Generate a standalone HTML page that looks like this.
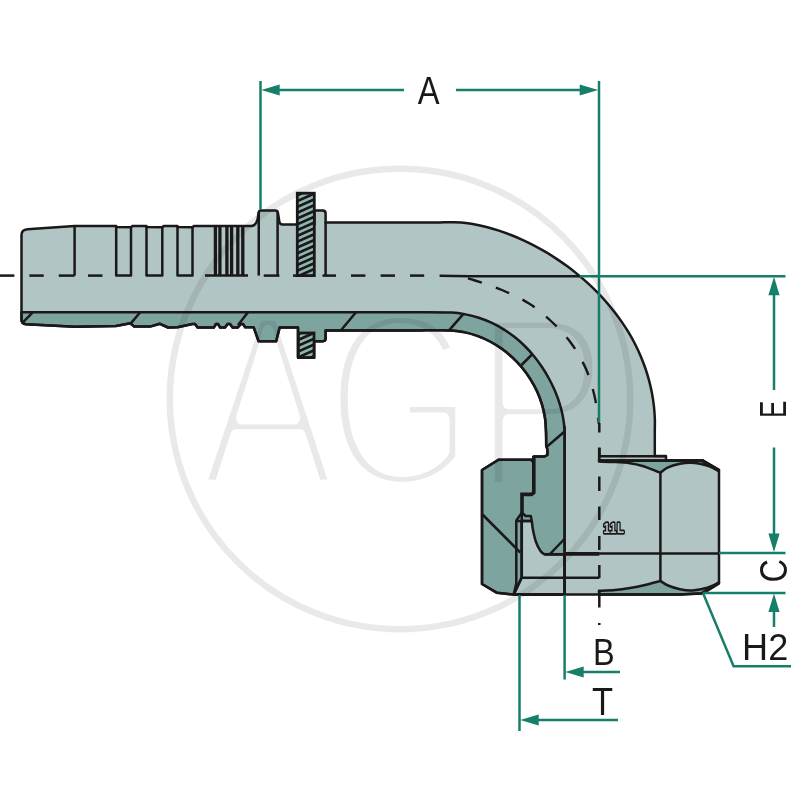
<!DOCTYPE html>
<html lang="en">
<head>
<meta charset="utf-8">
<title>A G P</title>
<style>
html,body{margin:0;padding:0;background:#ffffff;}
body{width:800px;height:800px;overflow:hidden;}
svg{display:block;}
</style>
</head>
<body>
<svg width="800" height="800" viewBox="0 0 800 800">
<rect width="800" height="800" fill="#ffffff"/>
<g style="isolation:isolate">
<path d="M 21.5 235 Q 21.5 229.8 27.5 229.3 L 74.5 226 L 116.2 226 L 116.2 227 L 131 227.3 L 132.2 226 L 146.5 226 L 146.5 227 L 162.3 227.3 L 163.5 226 L 177.5 226 L 177.5 227 L 192.5 227.3 L 193.7 226 L 251.5 226 Q 256 225.6 257.6 219 L 258.75 212.6 Q 258.9 210.6 261 210.6 L 275.4 210.6 Q 277.6 210.6 277.9 212.6 L 279.4 222 Q 279.8 224.4 282.5 224.4 L 297 224.4 L 314.4 224.4 L 314.4 210.6 L 322.6 210.6 Q 325.6 210.6 325.6 213.4 L 325.6 222.4 L 440 222.4 C 443.5 222.4 455.36 222.09 461 222.4 C 466.64 222.71 469.58 223.49 473.83 224.26 C 478.07 225.03 482.28 225.96 486.45 227.02 C 490.62 228.09 494.76 229.3 498.86 230.63 C 502.96 231.96 507.02 233.43 511.03 235 C 515.05 236.58 519.03 238.28 522.96 240.08 C 526.89 241.88 530.78 243.79 534.62 245.81 C 538.45 247.82 542.25 249.94 545.98 252.15 C 549.71 254.37 553.39 256.69 557.01 259.09 C 560.62 261.5 564.18 264 567.67 266.59 C 571.16 269.18 574.59 271.87 577.94 274.63 C 581.3 277.39 584.58 280.24 587.79 283.17 C 590.99 286.1 594.12 289.12 597.16 292.21 C 600.2 295.3 603.15 298.47 606.01 301.72 C 608.86 304.96 611.63 308.29 614.28 311.69 C 616.94 315.09 619.49 318.56 621.93 322.11 C 624.37 325.66 626.7 329.28 628.9 332.97 C 631.11 336.66 633.2 340.42 635.15 344.25 C 637.1 348.08 638.93 351.98 640.61 355.94 C 642.3 359.9 643.85 363.93 645.26 368 C 646.66 372.08 647.93 376.21 649.04 380.38 C 650.16 384.55 651.12 388.78 651.93 393.03 C 652.73 397.27 653.39 401.57 653.88 405.88 C 654.36 410.19 654.69 414.53 654.85 418.89 C 655 423.24 654.81 425.81 654.8 432 C 654.79 438.19 654.8 452 654.8 456 L 654.8 456 L 666 456 L 666 460.4 L 702.5 460.4 L 719 470 L 719 583 L 702.5 593.4 L 680 594.6 L 513.75 594.6 L 497 592.8 L 482 584 L 482 470 L 498.5 459.8 L 533.8 459.8 L 533.8 456.4 L 544.6 456.4 L 547.4 455 L 547.4 449.4 L 546.2 446 C 546.17 443.67 546.2 436.67 546 432 C 545.8 427.33 545.67 422.59 545 417.98 C 544.32 413.38 543.28 408.81 541.94 404.37 C 540.61 399.93 538.94 395.56 537.01 391.35 C 535.07 387.14 532.83 383.03 530.35 379.11 C 527.88 375.18 525.12 371.39 522.16 367.82 C 519.2 364.24 515.98 360.83 512.58 357.67 C 509.19 354.5 505.57 351.53 501.81 348.84 C 498.04 346.15 494.07 343.68 489.99 341.52 C 485.9 339.36 481.65 337.45 477.3 335.88 C 472.96 334.31 468.47 333.03 463.92 332.11 C 459.37 331.2 457.32 330.69 450 330.4 C 442.68 330.11 425 330.4 420 330.4 L 325.6 330.4 L 325.6 338.6 Q 325.6 341.2 323 341.2 L 314 341.2 L 314 357.5 L 298 357.5 L 298 327.6 L 279.6 327.6 L 276.2 341.3 L 258.6 341.3 L 253.6 327.2 L 245.2 327.2 L 243 324 L 241 324 L 237.6 327.6 L 232.6 327.6 L 230 324 L 227.6 324 L 225 327.6 L 220.2 327.6 L 218 324 L 216 324 L 213.8 327.6 L 197.6 327.6 L 195 324 L 192.5 324 L 177.5 327.3 L 168 327.5 L 160 323.8 L 150 326.6 L 134.2 326.6 L 130.4 323.2 L 116 326 L 75 326.8 L 26 324.2 Q 21.5 323.8 21.5 319.5 Z" fill="#b1c5c4"/>
<path d="M 21.5 312.3 L 420 312.3 C 425.33 312.35 444.39 312.25 452 312.6 C 459.61 312.95 461.17 313.53 465.63 314.39 C 470.1 315.26 474.5 316.42 478.79 317.81 C 483.08 319.2 487.3 320.86 491.37 322.74 C 495.45 324.63 499.43 326.77 503.26 329.11 C 507.08 331.46 510.79 334.04 514.33 336.82 C 517.86 339.59 521.26 342.6 524.48 345.76 C 527.69 348.93 530.75 352.31 533.64 355.81 C 536.52 359.31 539.25 362.99 541.8 366.77 C 544.34 370.55 546.73 374.48 548.92 378.48 C 551.1 382.48 553.11 386.6 554.9 390.78 C 556.68 394.96 558.28 399.23 559.62 403.54 C 560.96 407.85 562.09 412.24 562.92 416.65 C 563.75 421.06 564.32 426.11 564.6 430 C 564.88 433.89 564.6 438.33 564.6 440 L 564.6 594.6 L 513.75 594.6 L 497 592.8 L 482 584 L 482 470 L 498.5 459.8 L 533.8 459.8 L 533.8 456.4 L 544.6 456.4 L 547.4 455 L 547.4 449.4 L 546.2 446 C 546.17 443.67 546.2 436.67 546 432 C 545.8 427.33 545.67 422.59 545 417.98 C 544.32 413.38 543.28 408.81 541.94 404.37 C 540.61 399.93 538.94 395.56 537.01 391.35 C 535.07 387.14 532.83 383.03 530.35 379.11 C 527.88 375.18 525.12 371.39 522.16 367.82 C 519.2 364.24 515.98 360.83 512.58 357.67 C 509.19 354.5 505.57 351.53 501.81 348.84 C 498.04 346.15 494.07 343.68 489.99 341.52 C 485.9 339.36 481.65 337.45 477.3 335.88 C 472.96 334.31 468.47 333.03 463.92 332.11 C 459.37 331.2 457.32 330.69 450 330.4 C 442.68 330.11 425 330.4 420 330.4 L 325.6 330.4 L 325.6 338.6 Q 325.6 341.2 323 341.2 L 314 341.2 L 314 357.5 L 298 357.5 L 298 327.6 L 279.6 327.6 L 276.2 341.3 L 258.6 341.3 L 253.6 327.2 L 245.2 327.2 L 243 324 L 241 324 L 237.6 327.6 L 232.6 327.6 L 230 324 L 227.6 324 L 225 327.6 L 220.2 327.6 L 218 324 L 216 324 L 213.8 327.6 L 197.6 327.6 L 195 324 L 192.5 324 L 177.5 327.3 L 168 327.5 L 160 323.8 L 150 326.6 L 134.2 326.6 L 130.4 323.2 L 116 326 L 75 326.8 L 26 324.2 Q 21.5 323.8 21.5 319.5 Z" fill="#7da49f"/>
<path d="M 521.6 521 L 531.8 521 C 532 522.5 532.3 526.5 533 530 C 533.7 533.5 534.75 538.5 536 542 C 537.25 545.5 539.08 548.93 540.5 551 C 541.92 553.07 543.83 553.83 544.5 554.4 L 564.6 554.4 L 564.6 594.6 L 513.75 594.6 L 521.6 577.8 Z" fill="#b1c5c4"/>
<path d="M 599 460.4 L 599 461.6 C 601.67 461.67 609.83 461.73 615 462 C 620.17 462.27 625.42 462.53 630 463.2 C 634.58 463.87 638.33 464.77 642.5 466 C 646.67 467.23 652.02 469.47 655 470.6 C 657.98 471.73 659.5 472.43 660.4 472.8 C 661.58 471.93 664.23 469.1 667.5 467.6 C 670.77 466.1 676.25 464.6 680 463.8 C 683.75 463 686.67 462.8 690 462.8 C 693.33 462.8 696.67 463.17 700 463.8 C 703.33 464.43 706.9 465.4 710 466.6 C 713.1 467.8 717.17 470.27 718.6 471 L 719 470 L 702.5 460.4 Z" fill="#7da49f"/>
<path d="M 599 594.6 L 599 590.8 C 601.67 590.67 609.83 590.47 615 590 C 620.17 589.53 625 588.83 630 588 C 635 587.17 639.93 586.17 645 585 C 650.07 583.83 657.83 581.67 660.4 581 C 661.67 581.75 664.73 584.13 668 585.5 C 671.27 586.87 675.92 588.38 680 589.2 C 684.08 590.02 687.92 590.67 692.5 590.4 C 697.08 590.13 703.08 588.92 707.5 587.6 C 711.92 586.28 717.08 583.35 719 582.5 L 719 583 L 702.5 593.2 L 680 594.6 Z" fill="#7da49f"/>
<g fill="none" stroke="#1b1819" stroke-width="2.5" stroke-linejoin="round" stroke-linecap="butt">
<path d="M 21.5 235 Q 21.5 229.8 27.5 229.3 L 74.5 226 L 116.2 226 L 116.2 227 L 131 227.3 L 132.2 226 L 146.5 226 L 146.5 227 L 162.3 227.3 L 163.5 226 L 177.5 226 L 177.5 227 L 192.5 227.3 L 193.7 226 L 251.5 226 Q 256 225.6 257.6 219 L 258.75 212.6 Q 258.9 210.6 261 210.6 L 275.4 210.6 Q 277.6 210.6 277.9 212.6 L 279.4 222 Q 279.8 224.4 282.5 224.4 L 297 224.4 L 314.4 224.4 L 314.4 210.6 L 322.6 210.6 Q 325.6 210.6 325.6 213.4 L 325.6 222.4 L 440 222.4 C 443.5 222.4 455.36 222.09 461 222.4 C 466.64 222.71 469.58 223.49 473.83 224.26 C 478.07 225.03 482.28 225.96 486.45 227.02 C 490.62 228.09 494.76 229.3 498.86 230.63 C 502.96 231.96 507.02 233.43 511.03 235 C 515.05 236.58 519.03 238.28 522.96 240.08 C 526.89 241.88 530.78 243.79 534.62 245.81 C 538.45 247.82 542.25 249.94 545.98 252.15 C 549.71 254.37 553.39 256.69 557.01 259.09 C 560.62 261.5 564.18 264 567.67 266.59 C 571.16 269.18 574.59 271.87 577.94 274.63 C 581.3 277.39 584.58 280.24 587.79 283.17 C 590.99 286.1 594.12 289.12 597.16 292.21 C 600.2 295.3 603.15 298.47 606.01 301.72 C 608.86 304.96 611.63 308.29 614.28 311.69 C 616.94 315.09 619.49 318.56 621.93 322.11 C 624.37 325.66 626.7 329.28 628.9 332.97 C 631.11 336.66 633.2 340.42 635.15 344.25 C 637.1 348.08 638.93 351.98 640.61 355.94 C 642.3 359.9 643.85 363.93 645.26 368 C 646.66 372.08 647.93 376.21 649.04 380.38 C 650.16 384.55 651.12 388.78 651.93 393.03 C 652.73 397.27 653.39 401.57 653.88 405.88 C 654.36 410.19 654.69 414.53 654.85 418.89 C 655 423.24 654.81 425.81 654.8 432 C 654.79 438.19 654.8 452 654.8 456 L 654.8 456 L 666 456 L 666 460.4 L 702.5 460.4 L 719 470 L 719 583 L 702.5 593.4 L 680 594.6 L 513.75 594.6 L 497 592.8 L 482 584 L 482 470 L 498.5 459.8 L 533.8 459.8 L 533.8 456.4 L 544.6 456.4 L 547.4 455 L 547.4 449.4 L 546.2 446 C 546.17 443.67 546.2 436.67 546 432 C 545.8 427.33 545.67 422.59 545 417.98 C 544.32 413.38 543.28 408.81 541.94 404.37 C 540.61 399.93 538.94 395.56 537.01 391.35 C 535.07 387.14 532.83 383.03 530.35 379.11 C 527.88 375.18 525.12 371.39 522.16 367.82 C 519.2 364.24 515.98 360.83 512.58 357.67 C 509.19 354.5 505.57 351.53 501.81 348.84 C 498.04 346.15 494.07 343.68 489.99 341.52 C 485.9 339.36 481.65 337.45 477.3 335.88 C 472.96 334.31 468.47 333.03 463.92 332.11 C 459.37 331.2 457.32 330.69 450 330.4 C 442.68 330.11 425 330.4 420 330.4 L 325.6 330.4 L 325.6 338.6 Q 325.6 341.2 323 341.2 L 314 341.2 L 314 357.5 L 298 357.5 L 298 327.6 L 279.6 327.6 L 276.2 341.3 L 258.6 341.3 L 253.6 327.2 L 245.2 327.2 L 243 324 L 241 324 L 237.6 327.6 L 232.6 327.6 L 230 324 L 227.6 324 L 225 327.6 L 220.2 327.6 L 218 324 L 216 324 L 213.8 327.6 L 197.6 327.6 L 195 324 L 192.5 324 L 177.5 327.3 L 168 327.5 L 160 323.8 L 150 326.6 L 134.2 326.6 L 130.4 323.2 L 116 326 L 75 326.8 L 26 324.2 Q 21.5 323.8 21.5 319.5 Z"/>
<path d="M 21.5 312.3 L 420 312.3 C 425.33 312.35 444.39 312.25 452 312.6 C 459.61 312.95 461.17 313.53 465.63 314.39 C 470.1 315.26 474.5 316.42 478.79 317.81 C 483.08 319.2 487.3 320.86 491.37 322.74 C 495.45 324.63 499.43 326.77 503.26 329.11 C 507.08 331.46 510.79 334.04 514.33 336.82 C 517.86 339.59 521.26 342.6 524.48 345.76 C 527.69 348.93 530.75 352.31 533.64 355.81 C 536.52 359.31 539.25 362.99 541.8 366.77 C 544.34 370.55 546.73 374.48 548.92 378.48 C 551.1 382.48 553.11 386.6 554.9 390.78 C 556.68 394.96 558.28 399.23 559.62 403.54 C 560.96 407.85 562.09 412.24 562.92 416.65 C 563.75 421.06 564.32 426.11 564.6 430 C 564.88 433.89 564.6 438.33 564.6 440 L 564.6 594.6 L 513.75 594.6 L 497 592.8 L 482 584 L 482 470 L 498.5 459.8 L 533.8 459.8 L 533.8 456.4 L 544.6 456.4 L 547.4 455 L 547.4 449.4 L 546.2 446 C 546.17 443.67 546.2 436.67 546 432 C 545.8 427.33 545.67 422.59 545 417.98 C 544.32 413.38 543.28 408.81 541.94 404.37 C 540.61 399.93 538.94 395.56 537.01 391.35 C 535.07 387.14 532.83 383.03 530.35 379.11 C 527.88 375.18 525.12 371.39 522.16 367.82 C 519.2 364.24 515.98 360.83 512.58 357.67 C 509.19 354.5 505.57 351.53 501.81 348.84 C 498.04 346.15 494.07 343.68 489.99 341.52 C 485.9 339.36 481.65 337.45 477.3 335.88 C 472.96 334.31 468.47 333.03 463.92 332.11 C 459.37 331.2 457.32 330.69 450 330.4 C 442.68 330.11 425 330.4 420 330.4 L 325.6 330.4 L 325.6 338.6 Q 325.6 341.2 323 341.2 L 314 341.2 L 314 357.5 L 298 357.5 L 298 327.6 L 279.6 327.6 L 276.2 341.3 L 258.6 341.3 L 253.6 327.2 L 245.2 327.2 L 243 324 L 241 324 L 237.6 327.6 L 232.6 327.6 L 230 324 L 227.6 324 L 225 327.6 L 220.2 327.6 L 218 324 L 216 324 L 213.8 327.6 L 197.6 327.6 L 195 324 L 192.5 324 L 177.5 327.3 L 168 327.5 L 160 323.8 L 150 326.6 L 134.2 326.6 L 130.4 323.2 L 116 326 L 75 326.8 L 26 324.2 Q 21.5 323.8 21.5 319.5 Z"/>
<path d="M 521.6 521 L 531.8 521 C 532 522.5 532.3 526.5 533 530 C 533.7 533.5 534.75 538.5 536 542 C 537.25 545.5 539.08 548.93 540.5 551 C 541.92 553.07 543.83 553.83 544.5 554.4 L 564.6 554.4 L 564.6 594.6 L 513.75 594.6 L 521.6 577.8 Z"/>
<path d="M 599 460.4 L 599 461.6 C 601.67 461.67 609.83 461.73 615 462 C 620.17 462.27 625.42 462.53 630 463.2 C 634.58 463.87 638.33 464.77 642.5 466 C 646.67 467.23 652.02 469.47 655 470.6 C 657.98 471.73 659.5 472.43 660.4 472.8 C 661.58 471.93 664.23 469.1 667.5 467.6 C 670.77 466.1 676.25 464.6 680 463.8 C 683.75 463 686.67 462.8 690 462.8 C 693.33 462.8 696.67 463.17 700 463.8 C 703.33 464.43 706.9 465.4 710 466.6 C 713.1 467.8 717.17 470.27 718.6 471 L 719 470 L 702.5 460.4 Z"/>
<path d="M 599 594.6 L 599 590.8 C 601.67 590.67 609.83 590.47 615 590 C 620.17 589.53 625 588.83 630 588 C 635 587.17 639.93 586.17 645 585 C 650.07 583.83 657.83 581.67 660.4 581 C 661.67 581.75 664.73 584.13 668 585.5 C 671.27 586.87 675.92 588.38 680 589.2 C 684.08 590.02 687.92 590.67 692.5 590.4 C 697.08 590.13 703.08 588.92 707.5 587.6 C 711.92 586.28 717.08 583.35 719 582.5 L 719 583 L 702.5 593.2 L 680 594.6 Z"/>
<path d="M 0 275.6 H 14.4" stroke-width="2.5"/>
<path d="M 29.4 275.6 H 43.75" stroke-width="2.5"/>
<path d="M 58.75 275.6 H 74.6" stroke-width="2.5"/>
<path d="M 88 275.6 H 102.5" stroke-width="2.5"/>
<path d="M 205 275.6 H 248" stroke-width="2.5"/>
<path d="M 263.75 275.6 H 279.4" stroke-width="2.5"/>
<path d="M 293 275.6 H 314.4" stroke-width="2.5"/>
<path d="M 322.5 275.6 H 336" stroke-width="2.5"/>
<path d="M 351 275.6 H 365.4" stroke-width="2.5"/>
<path d="M 380.6 275.6 H 395" stroke-width="2.5"/>
<path d="M 410 275.6 H 424.2" stroke-width="2.5"/>
<path d="M 439.6 275.8 L 470 276.2 L 580 276.2" stroke-width="2.5"/>
<path d="M 461 276.5 C 463.33 277.17 468.17 278.25 475 280.5 C 481.83 282.75 493 286.17 502 290 C 511 293.83 520.67 298.17 529 303.5 C 537.33 308.83 545 315.42 552 322 C 559 328.58 565.33 335.17 571 343 C 576.67 350.83 582.08 360.17 586 369 C 589.92 377.83 592.35 386.83 594.5 396 C 596.65 405.17 598.17 419.33 598.9 424" stroke-width="2.4" stroke-dasharray="14.5 14.7" stroke-dashoffset="-7.3"/>
<path d="M 599.3 423 V 432.5" stroke-width="2.5"/>
<path d="M 599.3 448 V 456" stroke-width="2.5"/>
<path d="M 599.3 476.5 V 491" stroke-width="2.5"/>
<path d="M 599.3 506.5 V 520" stroke-width="2.5"/>
<path d="M 599.3 536 V 550" stroke-width="2.5"/>
<path d="M 599.3 565 V 578" stroke-width="2.5"/>
<path d="M 599.3 592.5 V 607.5" stroke-width="2.5"/>
<path d="M 599.3 623 V 625" stroke-width="2.5"/>
<path d="M 74.6 226 V 275.6" stroke-width="2.5"/>
<path d="M 116.2 226.4 V 275.6 H 131 V 227" stroke-width="2.5"/>
<path d="M 146.5 226.4 V 275.6 H 162.3 V 227" stroke-width="2.5"/>
<path d="M 177.5 226.4 V 275.6 H 192.5 V 227" stroke-width="2.5"/>
<path d="M 215.4 226 V 275.6" stroke-width="3.3"/>
<path d="M 219.9 226 V 275.6" stroke-width="3.3"/>
<path d="M 226.9 226 V 275.6" stroke-width="3.3"/>
<path d="M 231.6 226 V 275.6" stroke-width="3.3"/>
<path d="M 237.8 226 V 275.6" stroke-width="3.3"/>
<path d="M 242.8 226 V 275.6" stroke-width="3.3"/>
<path d="M 258.75 212 V 275.6" stroke-width="2.5"/>
<path d="M 277.6 212 V 275.6" stroke-width="2.5"/>
<path d="M 325.6 222 V 275.6" stroke-width="2.5"/>
<path d="M 32.5 312.6 L 22.6 322.6" stroke-width="2.5"/>
<path d="M 140 312.5 L 130.6 323.6" stroke-width="2.5"/>
<path d="M 248 312.3 L 238 325" stroke-width="2.5"/>
<path d="M 356 312.3 L 341 330.2" stroke-width="2.5"/>
<path d="M 463 314.4 L 449 330.4" stroke-width="2.5"/>
<path d="M 532 354.5 L 521.5 365" stroke-width="2.5"/>
<path d="M 564 432 L 546.5 447" stroke-width="2.5"/>
<path d="M 564.4 539 L 550 554" stroke-width="2.5"/>
<path d="M 533.8 456 V 492.6 L 531.5 494.4 H 522 V 513" stroke-width="3.6" stroke-linejoin="miter"/>
<path d="M 531 459.6 L 533.8 463" stroke-width="2.5"/>
<path d="M 522 512.6 L 516.3 520.4 V 583.5 L 513.8 594" stroke-width="2.5"/>
<path d="M 521.8 513 V 577.8 H 599.3" stroke-width="2.5"/>
<path d="M 521.6 577.8 L 514 593.6" stroke-width="2.5"/>
<path d="M 516.3 521 H 531.8" stroke-width="2.5"/>
<path d="M 522 512.8 L 525.6 516 H 530.8 L 531.8 521" stroke-width="2.5"/>
<path d="M 482 514 L 520.4 552.6" stroke-width="2.5"/>
<path d="M 564.6 426 V 594.6" stroke-width="2.5"/>
<path d="M 544.5 554.2 H 564.6" stroke-width="2.5"/>
<path d="M 564.6 553.9 H 599.3" stroke-width="3.8"/>
<path d="M 599 553.4 H 719" stroke-width="2.5"/>
<path d="M 599.3 456.2 H 666" stroke-width="2.6"/>
<path d="M 599.3 460.6 H 702.5" stroke-width="2.8"/>
<path d="M 599.3 447.5 V 461" stroke-width="2.8"/>
<path d="M 702 460.6 L 719 470.4" stroke-width="3.4"/>
<path d="M 660.4 472.8 V 581" stroke-width="2.5"/>
<path d="M 599.3 590.8 V 594.6" stroke-width="2.2"/>
<path d="M 702.5 593 L 719 583" stroke-width="3.4"/>
</g>

<defs>
<pattern id="hat" width="20" height="5.3" patternUnits="userSpaceOnUse" patternTransform="rotate(-24) translate(0 1.2)">
<rect x="0" y="0" width="20" height="5.3" fill="#8fb7b2"/>
<rect x="0" y="0" width="20" height="2.7" fill="#1b1819"/>
</pattern>
</defs>
<rect x="297.3" y="193.2" width="17" height="82.4" fill="url(#hat)" stroke="#1b1819" stroke-width="2.8"/>
<rect x="298.4" y="333" width="15.6" height="24.5" fill="url(#hat)" stroke="#1b1819" stroke-width="2.8"/>

<text transform="translate(603.4 532.8) scale(0.74 1)" font-family="'Liberation Sans', sans-serif" font-size="15.5" font-weight="bold" fill="#b1c5c4" stroke="#1b1819" stroke-width="3.6" stroke-linejoin="round" paint-order="stroke" letter-spacing="1">11L</text>
<path d="M 260.5 81 V 210" fill="none" stroke="#157f69" stroke-width="2.5"/>
<path d="M 599 81 V 422.5" fill="none" stroke="#157f69" stroke-width="2.5"/>
<path d="M 279 90 H 404" fill="none" stroke="#157f69" stroke-width="2.5"/>
<polygon points="261.2,90 279.7,84.4 279.7,95.6" fill="#157f69"/>
<path d="M 456 90 H 581" fill="none" stroke="#157f69" stroke-width="2.5"/>
<polygon points="598.2,90 579.7,84.4 579.7,95.6" fill="#157f69"/>
<path d="M 580 276.2 H 785.5" fill="none" stroke="#157f69" stroke-width="2.5"/>
<path d="M 774 294 V 390" fill="none" stroke="#157f69" stroke-width="2.5"/>
<polygon points="774,276.8 768.4,295.3 779.6,295.3" fill="#157f69"/>
<path d="M 774 447.5 V 535" fill="none" stroke="#157f69" stroke-width="2.5"/>
<polygon points="774,552 768.4,533.5 779.6,533.5" fill="#157f69"/>
<path d="M 719 553 H 785.5" fill="none" stroke="#157f69" stroke-width="2.5"/>
<path d="M 703 593 H 785.5" fill="none" stroke="#157f69" stroke-width="2.5"/>
<path d="M 774 611 V 627" fill="none" stroke="#157f69" stroke-width="2.5"/>
<polygon points="774,593.6 768.4,612.1 779.6,612.1" fill="#157f69"/>
<path d="M 703 593 L 733.6 666.2 H 791" fill="none" stroke="#157f69" stroke-width="2.5"/>
<path d="M 564.6 595 V 679.5" fill="none" stroke="#157f69" stroke-width="2.5"/>
<path d="M 519.5 595 V 731" fill="none" stroke="#157f69" stroke-width="2.5"/>
<path d="M 583 672 H 620" fill="none" stroke="#157f69" stroke-width="2.5"/>
<polygon points="565.2,672 583.7,666.4 583.7,677.6" fill="#157f69"/>
<path d="M 538 720 H 618" fill="none" stroke="#157f69" stroke-width="2.5"/>
<polygon points="520.2,720 538.7,714.4 538.7,725.6" fill="#157f69"/>
<text transform="translate(417.84 104) scale(0.846 1)" font-family="'Liberation Sans', sans-serif" font-size="38.69" text-anchor="start" fill="#1b1819">A</text>
<text transform="translate(593 665.25) scale(0.868 1)" font-family="'Liberation Sans', sans-serif" font-size="37.46" text-anchor="start" fill="#1b1819">B</text>
<text transform="translate(591.89 714.75) scale(0.882 1)" font-family="'Liberation Sans', sans-serif" font-size="39.13" text-anchor="start" fill="#1b1819">T</text>
<text transform="translate(742.11 660) scale(0.953 1)" font-family="'Liberation Sans', sans-serif" font-size="37.86" text-anchor="start" fill="#1b1819">H2</text>
<text transform="translate(785.75 418.09) rotate(-90) scale(0.701 1)" font-family="'Liberation Sans', sans-serif" font-size="37.32" text-anchor="start" fill="#1b1819">E</text>
<text transform="translate(786.61 582.62) rotate(-90) scale(0.821 1)" font-family="'Liberation Sans', sans-serif" font-size="39.44" text-anchor="start" fill="#1b1819">C</text>

<g style="mix-blend-mode:multiply">
<circle cx="400" cy="399" r="230.2" fill="none" stroke="#e9e9e9" stroke-width="6.5"/>
<g font-family="'Liberation Sans', sans-serif" font-size="250" fill="#e9e9e9" stroke="#ffffff" stroke-width="12.5" stroke-linejoin="round" text-anchor="middle">
<text transform="translate(267.8 486) scale(0.82 1)" vector-effect="non-scaling-stroke">A</text>
<text transform="translate(400 486.5) scale(0.77 1)" vector-effect="non-scaling-stroke">G</text>
<text transform="translate(540.5 487.5) scale(0.82 1)" vector-effect="non-scaling-stroke">P</text>
</g>
</g>

</g>
</svg>
</body>
</html>
